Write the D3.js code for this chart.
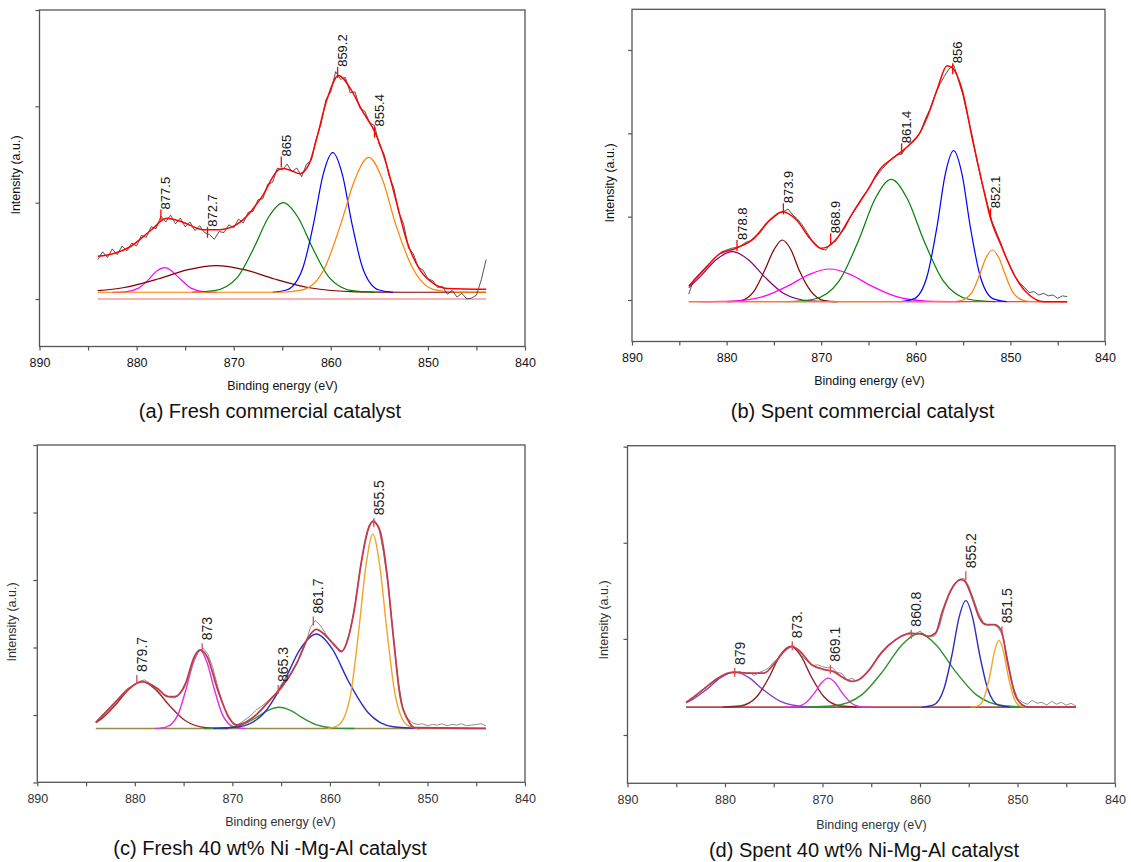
<!DOCTYPE html>
<html>
<head>
<meta charset="utf-8">
<script src="https://cdn.jsdelivr.net/npm/d3@7"></script>
<style>
  body { margin: 0; background: #fff; }
  text { font-family: "Liberation Sans", Arial, sans-serif; }
</style>
</head>
<body>
<svg id="fig" width="1131" height="862"></svg>
<script>
// shared x axis values (binding energy, eV)
var energyTicks = [890, 885, 880, 875, 870, 865, 860, 855, 850, 845, 840];
var energyLabels = [890, 880, 870, 860, 850, 840];
// raw spectra are sampled every 0.5 eV from 884 down to 844
var rawStart = 884, rawStep = 0.5;

// ---------- (a) Fresh commercial catalyst ----------
var aRaw = [
  0.41, 0.49, 0.43, 0.52, 0.46, 0.55, 0.50, 0.58, 0.55, 0.66,
  0.64, 0.75, 0.73, 0.86, 0.80, 0.87, 0.78, 0.84, 0.75, 0.80,
  0.71, 0.76, 0.69, 0.67, 0.62, 0.70, 0.69, 0.77, 0.74, 0.83,
  0.79, 0.90, 0.91, 1.03, 1.04, 1.19, 1.21, 1.36, 1.34, 1.40,
  1.32, 1.36, 1.27, 1.40, 1.44, 1.66, 1.82, 2.07, 2.15, 2.36,
  2.28, 2.30, 2.14, 2.15, 1.98, 1.95, 1.83, 1.80, 1.60, 1.50,
  1.28, 1.15, 0.90, 0.78, 0.53, 0.47, 0.33, 0.30, 0.21, 0.19,
  0.12, 0.13, 0.05, 0.09, 0.02, 0.06, 0.00, 0.01, 0.04, 0.20,
  0.41
];
var aEnvelope = [[884, 0.443], [880.7, 0.54], [878.5, 0.716], [876.9, 0.837], [875.3, 0.80], [873.2, 0.72],
  [871.4, 0.72], [869.3, 0.80], [867.1, 1.06], [865.4, 1.34], [864.9, 1.355], [864, 1.33], [863.2, 1.30],
  [862.2, 1.41], [861.5, 1.65], [860.4, 2.07], [859.2, 2.32], [857.9, 2.17], [856.8, 1.96], [855.4, 1.72],
  [854.4, 1.44], [853.3, 1.03], [852.2, 0.61], [850.8, 0.30], [849.4, 0.16], [848, 0.11], [844, 0.10]];
var aMagenta = [[882.5, 0.07], [881.2, 0.075], [879.8, 0.113], [878.8, 0.198], [878.0, 0.284], [877.1, 0.325],
  [876.3, 0.284], [875.4, 0.198], [874.4, 0.113], [873.0, 0.075], [871.7, 0.07]];
var aBrown = [[884, 0.086], [881.4, 0.117], [877.8, 0.208], [874.8, 0.302], [871.8, 0.346], [868.8, 0.302],
  [865.8, 0.208], [862.2, 0.117], [857.4, 0.075], [852.6, 0.07], [844, 0.07]];
var aGreen = [[874.3, 0.07], [872.0, 0.087], [869.6, 0.228], [867.9, 0.535], [866.4, 0.851], [864.9, 1.0],
  [863.4, 0.851], [861.9, 0.535], [860.2, 0.228], [857.8, 0.087], [855.5, 0.07]];
var aBlue = [[866.0, 0.07], [864.5, 0.096], [862.9, 0.317], [861.75, 0.795], [860.8, 1.288], [859.8, 1.52],
  [858.8, 1.288], [857.85, 0.795], [856.7, 0.317], [855.1, 0.096], [853.6, 0.07]];
var aOrange = [[884, 0.07], [865.2, 0.07], [862.9, 0.095], [860.7, 0.308], [859.0, 0.77], [857.5, 1.246],
  [856.1, 1.47], [854.7, 1.246], [853.3, 0.77], [851.5, 0.308], [849.3, 0.095], [847.0, 0.07], [844, 0.07]];
var aBaseline = [[884, 0], [844, 0]];
var aPeakE = [877.5, 872.7, 865.1, 859.3, 855.5];
var aPeakText = ["877.5", "872.7", "865", "859.2", "855.4"];
var aPeakTop = [0.93, 0.75, 1.48, 2.41, 1.79];
var aYTicks = [0, 1, 2, 3];

// ---------- (b) Spent commercial catalyst ----------
var bRaw = [
  0.07, 0.24, 0.30, 0.36, 0.42, 0.47, 0.53, 0.58, 0.60, 0.62,
  0.63, 0.65, 0.69, 0.71, 0.76, 0.80, 0.88, 0.95, 0.99, 1.04,
  1.06, 1.09, 1.02, 0.97, 0.90, 0.81, 0.72, 0.66, 0.61, 0.60,
  0.68, 0.70, 0.79, 0.86, 0.98, 1.07, 1.17, 1.26, 1.33, 1.43,
  1.51, 1.58, 1.64, 1.70, 1.74, 1.75, 1.83, 1.88, 1.93, 2.02,
  2.17, 2.29, 2.45, 2.58, 2.68, 2.77, 2.82, 2.64, 2.45, 2.20,
  1.95, 1.65, 1.40, 1.18, 0.96, 0.82, 0.68, 0.52, 0.40, 0.28,
  0.20, 0.15, 0.09, 0.10, 0.06, 0.08, 0.05, 0.06, 0.02, 0.05,
  0.04
];
var bEnvelope = [[884, 0.168], [882.4, 0.36], [880.9, 0.54], [879, 0.62], [877.1, 0.74], [875.6, 0.94],
  [874.1, 1.06], [872.6, 0.96], [871.2, 0.74], [870, 0.62], [869.3, 0.64], [868.2, 0.76], [866.7, 1.04],
  [865.2, 1.30], [863.7, 1.58], [862.2, 1.72], [860.7, 1.86], [859.6, 2.00], [858.5, 2.28], [857.7, 2.54],
  [856.7, 2.81], [856.1, 2.78], [855.1, 2.52], [854, 1.92], [852.9, 1.36], [852.1, 0.98], [851, 0.66],
  [849.5, 0.28], [848, 0.06], [846.5, -0.02], [844, -0.02]];
var bPurple = [[884, 0.148], [882.8, 0.28], [881.1, 0.484], [879.4, 0.58], [877.7, 0.484], [876.0, 0.28],
  [874.0, 0.082], [871.2, -0.009], [868.5, -0.02]];
var bBrown = [[880.0, -0.02], [878.5, -0.007], [877.1, 0.106], [876.0, 0.35], [875.0, 0.602], [874.1, 0.72],
  [873.2, 0.602], [872.3, 0.35], [871.1, 0.106], [869.7, -0.007], [868.2, -0.02]];
var bMagenta = [[882.9, -0.02], [879.4, -0.013], [876.0, 0.046], [873.4, 0.175], [871.25, 0.308], [869.1, 0.372],
  [866.95, 0.308], [864.8, 0.175], [862.2, 0.046], [858.8, -0.013], [855.3, -0.02]];
var bGreen = [[873.6, -0.02], [870.9, 0.006], [868.1, 0.23], [866.05, 0.715], [864.3, 1.215], [862.6, 1.448],
  [860.9, 1.215], [859.15, 0.715], [857.1, 0.23], [854.3, 0.006], [851.6, -0.02]];
var bBlue = [[861.6, -0.02], [860.2, 0.013], [858.8, 0.288], [857.75, 0.885], [856.9, 1.50], [856.0, 1.792],
  [855.1, 1.50], [854.25, 0.885], [853.2, 0.288], [851.8, 0.013], [850.4, -0.02]];
var bOrange = [[884, -0.02], [856.4, -0.02], [855.3, -0.009], [854.1, 0.085], [853.3, 0.29], [852.6, 0.501],
  [851.9, 0.60], [851.2, 0.501], [850.5, 0.29], [849.7, 0.085], [848.5, -0.009], [847.4, -0.02], [844, -0.02]];
var bBaseline = [[884, -0.02], [844, -0.02]];
var bPeakE = [878.9, 874.0, 869.0, 861.5, 856.1, 852.1];
var bPeakText = ["878.8", "873.9", "868.9", "861.4", "856", "852.1"];
var bPeakTop = [0.72, 1.16, 0.80, 1.88, 2.84, 1.10];
var bYTicks = [0, 1, 2, 3];

// ---------- (c) Fresh 40 wt% Ni-Mg-Al catalyst ----------
var cRaw = [
  -0.10, -0.02, 0.05, 0.13, 0.20, 0.26, 0.33, 0.40, 0.46, 0.50,
  0.52, 0.47, 0.43, 0.36, 0.31, 0.27, 0.25, 0.29, 0.38, 0.55,
  0.78, 0.93, 0.99, 0.90, 0.70, 0.42, 0.18, -0.02, -0.11, -0.15,
  -0.10, -0.05, 0.01, 0.08, 0.13, 0.19, 0.26, 0.33, 0.45, 0.55,
  0.62, 0.75, 0.88, 1.05, 1.30, 1.40, 1.33, 1.22, 1.10, 1.05,
  0.93, 0.98, 1.20, 1.58, 2.05, 2.50, 2.80, 2.90, 2.78, 2.40,
  1.90, 1.18, 0.50, 0.08, -0.06, -0.12, -0.14, -0.13, -0.16, -0.14,
  -0.15, -0.13, -0.16, -0.14, -0.15, -0.13, -0.16, -0.15, -0.14, -0.13,
  -0.16
];
var cEnvelope = [[884, -0.114], [882.1, 0.173], [880.6, 0.395], [879.25, 0.494], [877.7, 0.395], [876.6, 0.272],
  [875.9, 0.272], [874.8, 0.47], [873.9, 0.865], [873.3, 0.964], [872.6, 0.865], [871.5, 0.371], [870.4, -0.025],
  [869.6, -0.148], [868.9, -0.124], [867.4, 0.025], [866, 0.247], [864.9, 0.42], [863.4, 0.766], [862.3, 1.13],
  [861.4, 1.27], [860.5, 1.186], [859.4, 1.013], [858.8, 0.94], [858.3, 1.063], [857.5, 1.557], [856.8, 2.249],
  [856.1, 2.743], [855.6, 2.867], [854.9, 2.743], [854.2, 2.15], [853.5, 1.162], [852.8, 0.272], [852, -0.074],
  [851.3, -0.188], [844, -0.198]];
var cBrown = [[884, -0.112], [883.65, -0.082], [882.0, 0.147], [880.6, 0.383], [879.25, 0.494], [877.9, 0.383],
  [876.5, 0.147], [874.85, -0.082], [872.65, -0.188], [870.45, -0.2]];
var cMagenta = [[877.9, -0.2], [876.8, -0.179], [875.6, -0.002], [874.75, 0.382], [874.0, 0.778], [873.3, 0.964],
  [872.6, 0.778], [871.85, 0.382], [871.0, -0.002], [869.8, -0.179], [868.7, -0.2]];
var cGreen = [[872.9, -0.2], [871.0, -0.194], [869.05, -0.147], [867.6, -0.043], [866.4, 0.064], [865.2, 0.114],
  [864.0, 0.064], [862.8, -0.043], [861.35, -0.147], [859.45, -0.194], [857.5, -0.2]];
var cBlue = [[871.95, -0.2], [869.3, -0.175], [866.7, 0.038], [864.7, 0.5], [863.05, 0.976], [861.4, 1.2],
  [859.75, 0.976], [858.1, 0.5], [856.1, 0.038], [853.5, -0.175], [850.85, -0.2]];
var cOrange = [[860.25, -0.2], [859.1, -0.148], [857.9, 0.29], [857.05, 1.24], [856.3, 2.219], [855.6, 2.68],
  [854.9, 2.219], [854.15, 1.24], [853.3, 0.29], [852.1, -0.148], [850.95, -0.2]];
var cBaseline = [[884, -0.2], [844, -0.2]];
var cPeakE = [879.8, 873.1, 865.3, 861.7, 855.5];
var cPeakText = ["879.7", "873", "865.3", "861.7", "855.5"];
var cPeakTop = [0.593, 1.063, 0.445, 1.458, 2.916];
var cYTicks = [-1, 0, 1, 2, 3, 4];

// ---------- (d) Spent 40 wt% Ni-Mg-Al catalyst ----------
var dRaw = [
  0.33, 0.38, 0.40, 0.46, 0.49, 0.53, 0.58, 0.60, 0.63, 0.65,
  0.64, 0.66, 0.63, 0.65, 0.62, 0.65, 0.67, 0.70, 0.76, 0.80,
  0.86, 0.90, 0.93, 0.88, 0.81, 0.76, 0.72, 0.73, 0.71, 0.70,
  0.70, 0.65, 0.64, 0.57, 0.59, 0.56, 0.60, 0.64, 0.70, 0.78,
  0.84, 0.91, 0.95, 0.99, 1.03, 1.05, 1.07, 1.05, 1.08, 1.04,
  1.02, 1.03, 1.13, 1.32, 1.47, 1.56, 1.62, 1.63, 1.55, 1.41,
  1.27, 1.17, 1.14, 1.15, 1.12, 1.03, 0.78, 0.52, 0.38, 0.34,
  0.32, 0.36, 0.33, 0.34, 0.31, 0.35, 0.32, 0.34, 0.31, 0.33,
  0.30
];
var dEnvelope = [[884, 0.337], [882.7, 0.435], [881.2, 0.557], [879.7, 0.643], [879, 0.654], [877.5, 0.643],
  [876, 0.643], [874.9, 0.748], [873.8, 0.887], [873.2, 0.922], [872.3, 0.87], [871.1, 0.73], [870, 0.685],
  [868.9, 0.661], [867.8, 0.591], [867, 0.557], [866.3, 0.574], [865.2, 0.678], [864, 0.852], [862.5, 0.991],
  [861, 1.054], [859.9, 1.054], [859.2, 1.026], [858.4, 1.061], [857.7, 1.287], [856.6, 1.548], [855.8, 1.617],
  [855.4, 1.60], [854.7, 1.443], [853.9, 1.217], [853.2, 1.148], [852.4, 1.148], [851.7, 1.096], [851, 0.748],
  [850.3, 0.435], [849.5, 0.313], [848.8, 0.29], [844, 0.29]];
var dPurple = [[884, 0.337], [883.64, 0.352], [881.9, 0.472], [880.45, 0.596], [879.0, 0.654], [877.55, 0.596],
  [876.1, 0.472], [874.36, 0.352], [872.04, 0.297], [869.72, 0.29]];
var dBrown = [[880.2, 0.29], [878.45, 0.301], [876.75, 0.397], [875.45, 0.606], [874.4, 0.821], [873.3, 0.922],
  [872.2, 0.821], [871.15, 0.606], [869.85, 0.397], [868.15, 0.301], [866.4, 0.29]];
var dMagenta = [[873.9, 0.29], [872.75, 0.295], [871.65, 0.341], [870.8, 0.44], [870.1, 0.543], [869.4, 0.591],
  [868.7, 0.543], [868.0, 0.44], [867.15, 0.341], [866.05, 0.295], [864.9, 0.29]];
var dGreen = [[871.8, 0.29], [868.85, 0.304], [865.95, 0.42], [863.75, 0.672], [861.9, 0.932], [860.1, 1.054],
  [858.3, 0.932], [856.45, 0.672], [854.25, 0.42], [851.35, 0.304], [848.4, 0.29]];
var dBlue = [[859.8, 0.29], [858.65, 0.31], [857.55, 0.478], [856.7, 0.844], [856.0, 1.221], [855.3, 1.398],
  [854.6, 1.221], [853.9, 0.844], [853.05, 0.478], [851.95, 0.31], [850.8, 0.29]];
var dOrange = [[854.8, 0.29], [854.05, 0.302], [853.35, 0.408], [852.8, 0.637], [852.35, 0.873], [851.9, 0.984],
  [851.45, 0.873], [851.0, 0.637], [850.45, 0.408], [849.75, 0.302], [849.0, 0.29]];
var dBaseline = [[884, 0.29], [844, 0.29]];
var dPeakE = [879.0, 873.1, 869.2, 860.9, 855.3, 851.6];
var dPeakText = ["879", "873.", "869.1", "860.8", "855.2", "851.5"];
var dPeakTop = [0.696, 0.974, 0.73, 1.096, 1.704, 1.13];
var dYTicks = [0, 1, 2, 3];

var svg = d3.select("#fig");

function drawPanel(p) {
    var x = d3.scaleLinear().domain([890, 840]).range([p.left, p.right]);
    var y = d3.scaleLinear().domain(p.yDomain).range([p.bottom, p.top]);
    var g = svg.append("g");

    var line = d3.line()
        .x(function (d) { return x(d[0]); })
        .y(function (d) { return y(d[1]); })
        .curve(d3.curveMonotoneX);
    var rawLine = d3.line()
        .x(function (d, i) { return x(rawStart - i * rawStep); })
        .y(function (d) { return y(d); });

    // background lines under the fit
    p.baselines.forEach(function (b) {
        g.append("path").datum(b.data)
            .attr("d", line)
            .attr("fill", "none")
            .attr("stroke", b.color)
            .attr("stroke-width", b.width);
    });

    // fitted peak components
    p.components.forEach(function (c) {
        g.append("path").datum(c.data)
            .attr("d", line)
            .attr("fill", "none")
            .attr("stroke", c.color)
            .attr("stroke-width", p.compWidth);
    });

    // measured spectrum
    g.append("path").datum(p.raw)
        .attr("d", rawLine)
        .attr("fill", "none")
        .attr("stroke", p.rawColor)
        .attr("stroke-width", p.rawWidth);

    // cumulative fit
    g.append("path").datum(p.envelope)
        .attr("d", line)
        .attr("fill", "none")
        .attr("stroke", p.envColor)
        .attr("stroke-width", p.envWidth);

    // peak markers + labels
    p.peakE.forEach(function (e, i) {
        var px = x(e), py = y(p.peakTop[i]);
        g.append("line")
            .attr("x1", px).attr("x2", px)
            .attr("y1", py).attr("y2", py + p.markLen)
            .attr("stroke", p.markColor)
            .attr("stroke-width", 1.3);
        g.append("text")
            .attr("transform", "translate(" + (px + p.labelDx) + "," + (py - p.labelGap) + ") rotate(-90)")
            .attr("font-size", p.labelSize)
            .attr("fill", p.labelColor)
            .text(p.peakText[i]);
    });

    // frame
    g.append("rect")
        .attr("x", p.left).attr("y", p.top)
        .attr("width", p.right - p.left).attr("height", p.bottom - p.top)
        .attr("fill", "none")
        .attr("stroke", p.frameColor)
        .attr("stroke-width", 1.3);

    // x axis
    var xa = g.append("g")
        .attr("transform", "translate(0," + p.bottom + ")")
        .call(d3.axisBottom(x)
            .tickValues(energyTicks)
            .tickSize(4)
            .tickPadding(p.tickPad)
            .tickFormat(function (d) { return energyLabels.indexOf(d) >= 0 ? d : ""; }));
    xa.select(".domain").remove();
    xa.selectAll("line").attr("stroke", p.frameColor).attr("stroke-width", 1.2);
    xa.selectAll("text").attr("font-size", 12.5).attr("fill", p.textColor);

    // y axis (no labels)
    var ya = g.append("g")
        .attr("transform", "translate(" + p.left + ",0)")
        .call(d3.axisLeft(y).tickValues(p.yTicks).tickSize(4).tickFormat(""));
    ya.select(".domain").remove();
    ya.selectAll("line").attr("stroke", p.frameColor).attr("stroke-width", 1.2);

    // axis titles
    g.append("text")
        .attr("x", p.xTitle[0]).attr("y", p.xTitle[1])
        .attr("text-anchor", "middle")
        .attr("font-size", 12.5)
        .attr("fill", p.textColor)
        .text("Binding energy (eV)");
    g.append("text")
        .attr("transform", "translate(" + p.yTitle[0] + "," + p.yTitle[1] + ") rotate(-90)")
        .attr("text-anchor", "middle")
        .attr("dy", "0.35em")
        .attr("font-size", 12.5)
        .attr("fill", p.textColor)
        .text("Intensity (a.u.)");

    // caption
    g.append("text")
        .attr("x", p.caption[0]).attr("y", p.caption[1])
        .attr("text-anchor", "middle")
        .attr("font-size", 20)
        .attr("fill", "#111")
        .text(p.captionText);
}

drawPanel({
    left: 39.5, right: 525, top: 10, bottom: 346.5,
    yDomain: [-0.493, 3.0], yTicks: aYTicks,
    raw: aRaw, rawColor: "#2a2a2a", rawWidth: 0.8,
    envelope: aEnvelope, envColor: "#ff0000", envWidth: 1.5,
    compWidth: 1.2,
    components: [
        { data: aMagenta, color: "#ff00ff" },
        { data: aBrown, color: "#800000" },
        { data: aGreen, color: "#008000" },
        { data: aBlue, color: "#0000ff" },
        { data: aOrange, color: "#ff8000" }
    ],
    baselines: [{ data: aBaseline, color: "#f26a6a", width: 1.2 }],
    peakE: aPeakE, peakText: aPeakText, peakTop: aPeakTop,
    markLen: 11, markColor: "#ff0000", labelDx: 9.5, labelGap: 0, labelSize: 13, labelColor: "#111",
    frameColor: "#555", textColor: "#111", tickPad: 8,
    xTitle: [282.5, 390], yTitle: [15.5, 175],
    caption: [270, 418], captionText: "(a) Fresh commercial catalyst"
});

drawPanel({
    left: 632, right: 1105, top: 9.3, bottom: 341.5,
    yDomain: [-0.498, 3.488], yTicks: bYTicks,
    raw: bRaw, rawColor: "#2a2a2a", rawWidth: 0.8,
    envelope: bEnvelope, envColor: "#ff0000", envWidth: 1.5,
    compWidth: 1.2,
    components: [
        { data: bPurple, color: "#800080" },
        { data: bBrown, color: "#800000" },
        { data: bMagenta, color: "#ff00ff" },
        { data: bGreen, color: "#008000" },
        { data: bBlue, color: "#0000ff" },
        { data: bOrange, color: "#ff8000" }
    ],
    baselines: [{ data: bBaseline, color: "#ff4040", width: 1.4 }],
    peakE: bPeakE, peakText: bPeakText, peakTop: bPeakTop,
    markLen: 11, markColor: "#ff0000", labelDx: 9.5, labelGap: 0, labelSize: 13, labelColor: "#111",
    frameColor: "#555", textColor: "#111", tickPad: 8,
    xTitle: [869.5, 385], yTitle: [609.5, 183],
    caption: [862.5, 418], captionText: "(b) Spent commercial catalyst"
});

drawPanel({
    left: 37.3, right: 525, top: 445, bottom: 782.3,
    yDomain: [-0.997, 4.0], yTicks: cYTicks,
    raw: cRaw, rawColor: "#8e8e8e", rawWidth: 1,
    envelope: cEnvelope, envColor: "#c23a4c", envWidth: 1.8,
    compWidth: 1.4,
    components: [
        { data: cBrown, color: "#9b2b2b" },
        { data: cMagenta, color: "#e030e0" },
        { data: cGreen, color: "#2f922f" },
        { data: cBlue, color: "#2e2eb8" },
        { data: cOrange, color: "#f2a52a" }
    ],
    baselines: [{ data: cBaseline, color: "#968a45", width: 1.6 }],
    peakE: cPeakE, peakText: cPeakText, peakTop: cPeakTop,
    markLen: 9, markColor: "#e04a50", labelDx: 10, labelGap: 3, labelSize: 14, labelColor: "#222",
    frameColor: "#555", textColor: "#333", tickPad: 8,
    xTitle: [280.5, 826], yTitle: [11.8, 622],
    caption: [270, 855], captionText: "(c) Fresh 40 wt% Ni -Mg-Al catalyst"
});

drawPanel({
    left: 627.5, right: 1115, top: 445.7, bottom: 783.3,
    yDomain: [-0.503, 3.01], yTicks: dYTicks,
    raw: dRaw, rawColor: "#8e8e8e", rawWidth: 1,
    envelope: dEnvelope, envColor: "#c23a4c", envWidth: 1.8,
    compWidth: 1.4,
    components: [
        { data: dPurple, color: "#7f45c0" },
        { data: dBrown, color: "#8b2323" },
        { data: dMagenta, color: "#e030e0" },
        { data: dGreen, color: "#2f922f" },
        { data: dBlue, color: "#2e2eb8" },
        { data: dOrange, color: "#f2a52a" }
    ],
    baselines: [{ data: dBaseline, color: "#b8454a", width: 1.6 }],
    peakE: dPeakE, peakText: dPeakText, peakTop: dPeakTop,
    markLen: 9, markColor: "#e04a50", labelDx: 10, labelGap: 3, labelSize: 14, labelColor: "#222",
    frameColor: "#555", textColor: "#333", tickPad: 8,
    xTitle: [871.5, 829], yTitle: [603.7, 620],
    caption: [864, 857], captionText: "(d) Spent 40 wt% Ni-Mg-Al catalyst"
});
</script>
</body>
</html>
